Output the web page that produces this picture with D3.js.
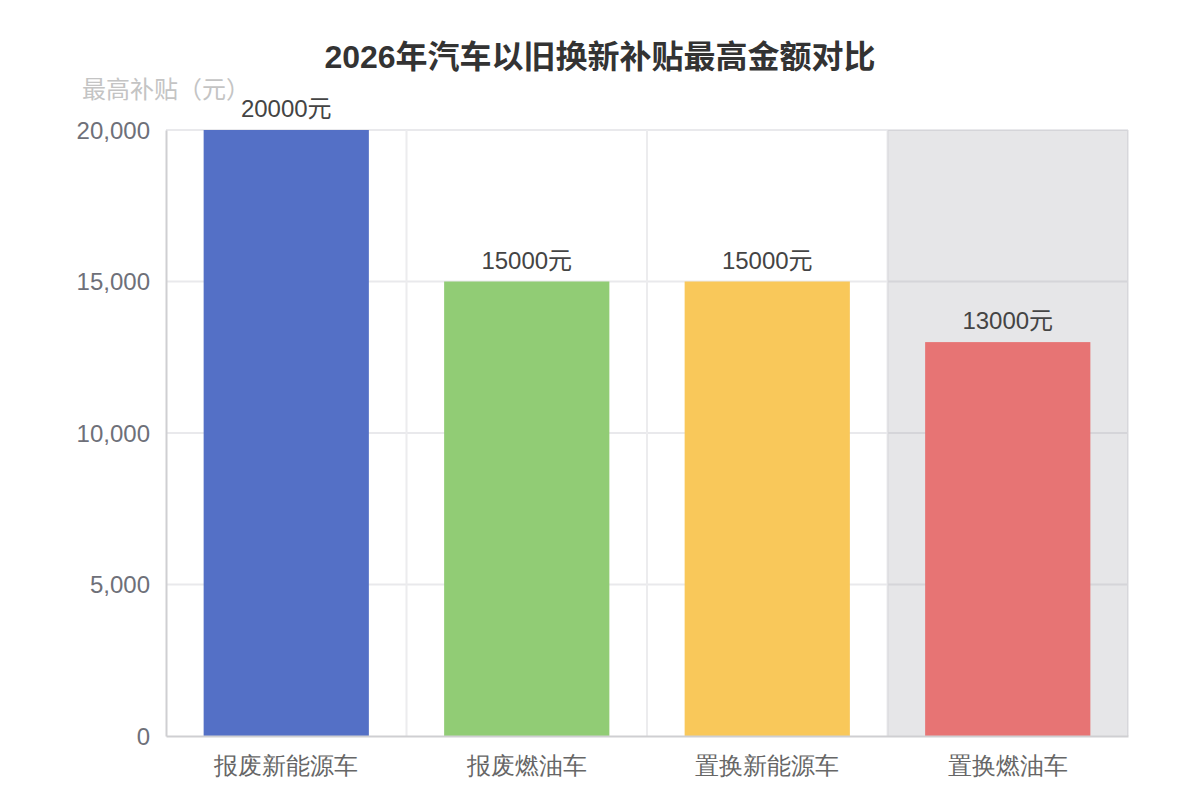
<!DOCTYPE html>
<html>
<head>
<meta charset="utf-8">
<script src="https://cdn.jsdelivr.net/npm/d3@7"></script>
<style>
  html, body { margin: 0; padding: 0; background: #fff; }
  svg { display: block; font-family: "Liberation Sans", "Noto Sans CJK SC", sans-serif; }
</style>
</head>
<body>
<svg id="chart" width="1200" height="800"></svg>
<script>
var titleText = '2026年汽车以旧换新补贴最高金额对比';
var yName = '最高补贴（元）';
var categories = ['报废新能源车', '报废燃油车', '置换新能源车', '置换燃油车'];
var values = [20000, 15000, 15000, 13000];
var barColors = ['#5470c6', '#91cc75', '#f9c85a', '#e77474'];
var yTicks = [0, 5000, 10000, 15000, 20000];
var labelSuffix = '元';
var shadowIndex = 3;

var
  margin = {top: 130, right: 72, bottom: 64, left: 166},
  svg = d3.select('#chart'),
  width = +svg.attr('width') - margin.left - margin.right,
  height = +svg.attr('height') - margin.top - margin.bottom,
  g = svg.append('g').attr('transform', 'translate(' + margin.left + ',' + margin.top + ')')
  ;

var xScale = d3.scaleBand()
  .domain(categories)
  .range([0, width])
  .padding(0);

var yScale = d3.scaleLinear()
  .domain([0, 20000])
  .range([height, 0]);

var barW = xScale.bandwidth() * 0.687;

// title
svg.append('text')
  .attr('x', 600)
  .attr('y', 68)
  .attr('text-anchor', 'middle')
  .attr('font-size', 32)
  .attr('font-weight', 'bold')
  .attr('fill', '#333')
  .text(titleText);

// horizontal grid
g.append('g')
  .selectAll('line')
  .data(yTicks.filter(function(d){ return d > 0; }))
  .enter().append('line')
  .attr('x1', 0).attr('x2', width)
  .attr('y1', function(d){ return yScale(d); })
  .attr('y2', function(d){ return yScale(d); })
  .attr('stroke', '#e9e9ec')
  .attr('stroke-width', 2);

// vertical split lines at category boundaries
g.append('g')
  .selectAll('line')
  .data(categories.slice(1).concat(['__end']))
  .enter().append('line')
  .attr('x1', function(d){ return d === '__end' ? width : xScale(d); })
  .attr('x2', function(d){ return d === '__end' ? width : xScale(d); })
  .attr('y1', 0).attr('y2', height)
  .attr('stroke', '#ececee')
  .attr('stroke-width', 2);

// hover shadow
g.append('rect')
  .attr('x', xScale(categories[shadowIndex]))
  .attr('y', 0)
  .attr('width', xScale.bandwidth())
  .attr('height', height)
  .attr('fill', 'rgba(150,150,158,0.24)');

// bars
g.append('g')
  .selectAll('rect')
  .data(values)
  .enter().append('rect')
  .attr('x', function(d, i){ return xScale(categories[i]) + (xScale.bandwidth() - barW) / 2; })
  .attr('y', function(d){ return yScale(d); })
  .attr('width', barW)
  .attr('height', function(d){ return height - yScale(d); })
  .attr('fill', function(d, i){ return barColors[i]; });

// bar labels
g.append('g')
  .selectAll('text')
  .data(values)
  .enter().append('text')
  .attr('x', function(d, i){ return xScale(categories[i]) + xScale.bandwidth() / 2; })
  .attr('y', function(d){ return yScale(d) - 13; })
  .attr('text-anchor', 'middle')
  .attr('font-size', 24)
  .attr('fill', '#444')
  .text(function(d){ return d + labelSuffix; });

// y axis
var yAxis = g.append('g')
  .call(d3.axisLeft(yScale)
    .tickValues(yTicks)
    .tickSize(0)
    .tickPadding(16)
    .tickFormat(d3.format(',')));
yAxis.select('.domain').attr('stroke', '#cfcfd2').attr('stroke-width', 2);
yAxis.selectAll('text')
  .attr('font-size', 24)
  .attr('font-family', null)
  .attr('fill', '#6e7079')
  .attr('dy', '0.35em');

// x axis
var xAxis = g.append('g')
  .attr('transform', 'translate(0,' + height + ')')
  .call(d3.axisBottom(xScale).tickSize(0).tickPadding(16));
xAxis.select('.domain').attr('stroke', '#cfcfd2').attr('stroke-width', 2);
xAxis.selectAll('text')
  .attr('font-size', 24)
  .attr('font-family', null)
  .attr('fill', '#666')
  .attr('dy', '0.9em');

// y axis name
g.append('text')
  .attr('x', 0)
  .attr('y', -32)
  .attr('text-anchor', 'middle')
  .attr('font-size', 24)
  .attr('fill', '#c4c4c4')
  .text(yName);
</script>
</body>
</html>
